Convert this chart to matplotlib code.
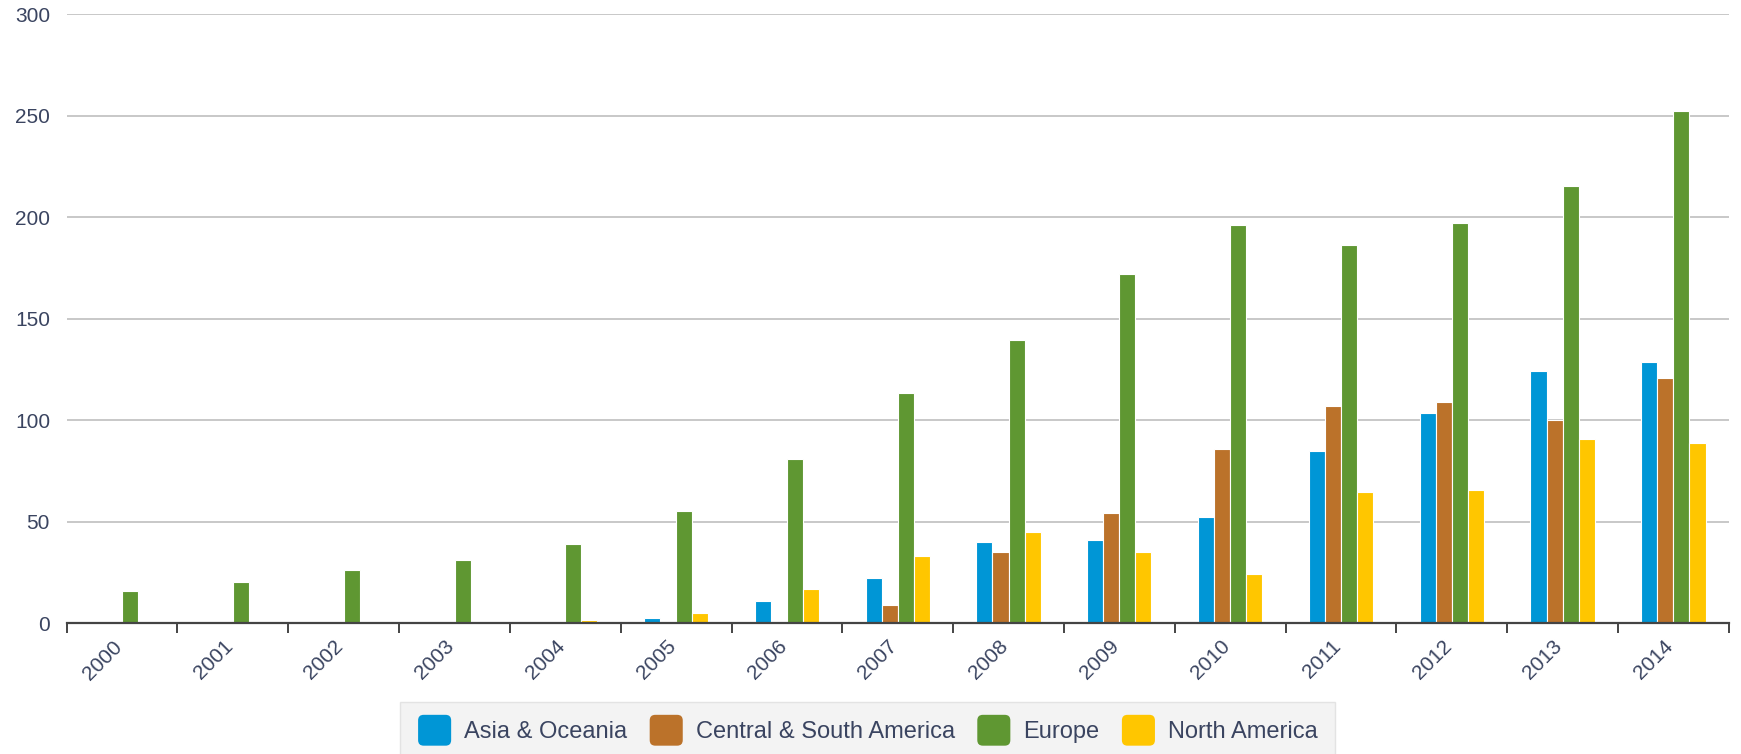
import numpy as np
import matplotlib
matplotlib.use('Agg')
import matplotlib.pyplot as plt
import matplotlib.transforms as mtransforms
from matplotlib.patches import Patch, FancyBboxPatch
from matplotlib.legend_handler import HandlerPatch

# yearly values per region
years = ['2000', '2001', '2002', '2003', '2004', '2005', '2006', '2007',
         '2008', '2009', '2010', '2011', '2012', '2013', '2014']
asia_oceania = [0, 0, 0, 0, 0, 2.5, 11, 22, 40, 41, 52.5, 85, 103.5, 124, 128.5]
central_south_america = [0, 0, 0, 0, 0, 0, 0, 9, 35, 54, 86, 107, 109, 100, 121]
europe = [16, 20, 26, 31, 39, 55, 81, 113.5, 139.5, 172, 196, 186.5, 197, 215.5, 252.5]
north_america = [0, 0, 0, 0, 1.5, 5, 17, 33, 45, 35, 24, 64.5, 65.5, 90.5, 88.5]

series = [
    ('Asia & Oceania', asia_oceania, '#0096d6'),
    ('Central & South America', central_south_america, '#bb722a'),
    ('Europe', europe, '#5f9732'),
    ('North America', north_america, '#ffc600'),
]

text_color = '#3a4460'
plt.rcParams['font.family'] = ['Liberation Sans', 'DejaVu Sans']

fig = plt.figure(figsize=(17.41, 7.54), dpi=100)
ax = fig.add_axes([0.0383, 0.1737, 0.9547, 0.8072])

x = np.arange(len(years))
slot = 0.145
for i, (name, vals, col) in enumerate(series):
    ax.bar(x + (i - 1.5) * slot, vals, width=slot, color=col,
           edgecolor='white', linewidth=0.8, label=name, zorder=3)

ax.set_xlim(-0.5, len(years) - 0.5)
ax.set_ylim(0, 300)
ax.set_yticks(range(0, 301, 50))
ax.yaxis.grid(True, color='#c4c4c4', linewidth=1.3, zorder=0)
ax.tick_params(axis='y', length=0, pad=12, labelsize=15, labelcolor=text_color)

for s in ['left', 'right', 'top']:
    ax.spines[s].set_visible(False)
ax.spines['bottom'].set_color('#444444')
ax.spines['bottom'].set_linewidth(1.6)
ax.spines['bottom'].set_zorder(4)

# category boundary ticks, labels centred on each year
ax.set_xticks(np.arange(-0.5, len(years), 1.0))
ax.set_xticklabels([])
ax.tick_params(axis='x', which='major', length=7, width=1.4, color='#444444')
ax.set_xticks(x, minor=True)
ax.set_xticklabels(years, minor=True, rotation=45, ha='right', va='top',
                   rotation_mode='anchor', fontsize=15, color=text_color)
ax.tick_params(axis='x', which='minor', length=0, pad=10)
shift = mtransforms.ScaledTranslation(-10 / 100, 0, fig.dpi_scale_trans)
for lbl in ax.get_xticklabels(minor=True):
    lbl.set_transform(lbl.get_transform() + shift)


class RoundSwatch(HandlerPatch):
    def create_artists(self, legend, orig_handle, xdescent, ydescent,
                       width, height, fontsize, trans):
        w, h = width, height + 7
        p = FancyBboxPatch((-xdescent, -ydescent - 3.5), w, h,
                           boxstyle='round,pad=0,rounding_size=4',
                           facecolor=orig_handle.get_facecolor(),
                           edgecolor='none', transform=trans)
        return [p]


handles = [Patch(facecolor=c, label=n) for n, _, c in series]
leg = fig.legend(handles=handles, loc='upper center', ncol=4,
                 bbox_to_anchor=(0.4985, 0.069), borderaxespad=0,
                 fontsize=17, handler_map={Patch: RoundSwatch()},
                 handlelength=1.4, handleheight=1.0, handletextpad=0.55,
                 columnspacing=0.95, borderpad=0.75, fancybox=False,
                 frameon=True)
leg.get_frame().set_facecolor('#f0f0f0')
leg.get_frame().set_edgecolor('#dedede')
leg.get_frame().set_linewidth(1.0)
for t in leg.get_texts():
    t.set_color(text_color)

fig.savefig('out.png', dpi=100)
